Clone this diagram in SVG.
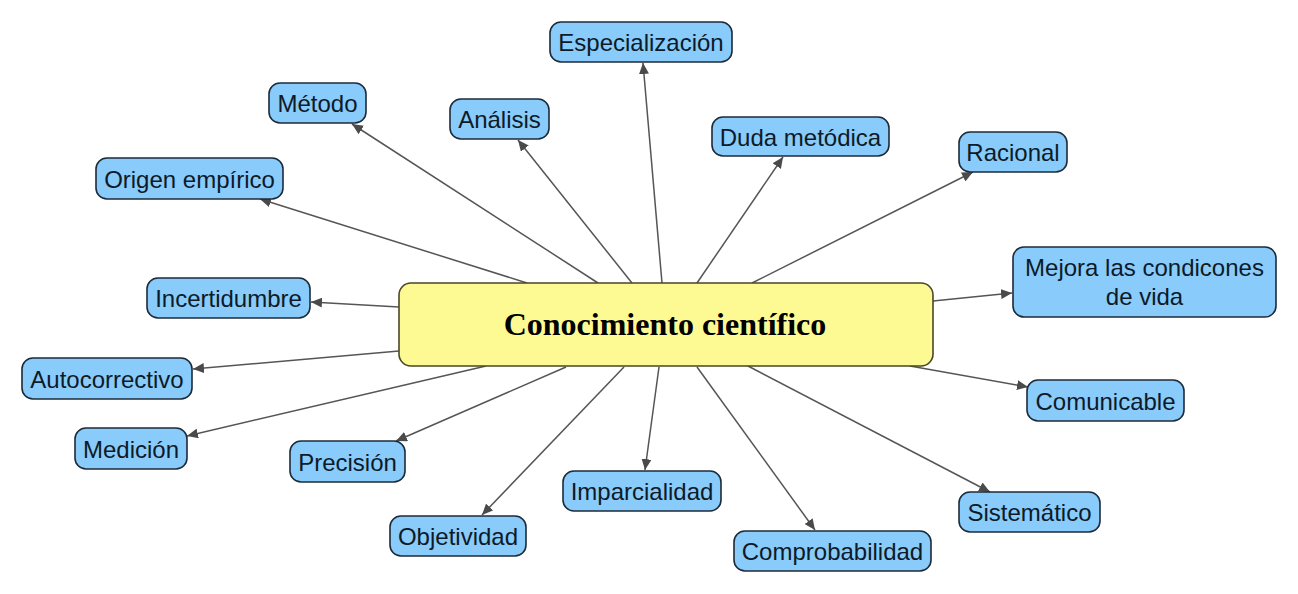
<svg xmlns="http://www.w3.org/2000/svg" width="1298" height="594" viewBox="0 0 1298 594">
<style>
.n rect{fill:#89cbfa;stroke:#1c2b3a;stroke-width:1.6}
.n text{font-family:"Liberation Sans",Arial,sans-serif;font-size:24px;fill:#0d1a28;text-anchor:middle}
#center rect{fill:#fdfa93;stroke:#4a4626;stroke-width:1.6}
#center text{font-family:"Liberation Serif","Times New Roman",serif;font-size:32px;font-weight:bold;fill:#000;text-anchor:middle}
#edges line{stroke:#555;stroke-width:1.5;marker-end:url(#arr)}
</style>
<defs>
<marker id="arr" markerUnits="userSpaceOnUse" markerWidth="12" markerHeight="10" refX="11" refY="5" orient="auto">
<path d="M0,0 L11,5 L0,10 Z" fill="#4a4a4a"/>
</marker>
</defs>
<rect width="1298" height="594" fill="#fff"/>
<g id="edges">
<line x1="598" y1="283" x2="352" y2="124"/>
<line x1="527" y1="283" x2="260" y2="199"/>
<line x1="632" y1="283" x2="518" y2="140"/>
<line x1="662" y1="283" x2="643" y2="63"/>
<line x1="697" y1="283" x2="783" y2="157"/>
<line x1="752" y1="283" x2="973" y2="172"/>
<line x1="933" y1="301" x2="1012" y2="293"/>
<line x1="910" y1="366" x2="1028" y2="387"/>
<line x1="748" y1="366" x2="990" y2="492"/>
<line x1="697" y1="367" x2="815" y2="530"/>
<line x1="659" y1="367" x2="645" y2="470"/>
<line x1="624" y1="367" x2="482" y2="515"/>
<line x1="566" y1="367" x2="396" y2="441"/>
<line x1="486" y1="366" x2="187" y2="436"/>
<line x1="399" y1="351" x2="193" y2="369"/>
<line x1="399" y1="307" x2="311" y2="302"/>
</g>
<g id="center"><rect x="399" y="283" width="534" height="83" rx="12"/><text x="665" y="335">Conocimiento científico</text></g>
<g id="metodo" class="n"><rect x="269" y="83" width="97" height="40" rx="11"/><text x="317.5" y="112">Método</text></g>
<g id="origen" class="n"><rect x="96" y="158" width="187" height="41" rx="11"/><text x="189.5" y="187.5">Origen empírico</text></g>
<g id="incertidumbre" class="n"><rect x="147" y="278" width="163" height="40" rx="11"/><text x="228.5" y="307">Incertidumbre</text></g>
<g id="especializacion" class="n"><rect x="550" y="22" width="182" height="40" rx="11"/><text x="641" y="51">Especialización</text></g>
<g id="analisis" class="n"><rect x="450" y="99" width="99" height="40" rx="11"/><text x="499.5" y="128">Análisis</text></g>
<g id="duda" class="n"><rect x="712" y="117" width="177" height="39" rx="11"/><text x="800.5" y="145.5">Duda metódica</text></g>
<g id="racional" class="n"><rect x="959" y="132" width="108" height="40" rx="11"/><text x="1013" y="161">Racional</text></g>
<g id="mejora" class="n"><rect x="1013" y="247" width="263" height="70" rx="11"/><text x="1144.5" y="276">Mejora las condicones</text><text x="1144.5" y="305">de vida</text></g>
<g id="comunicable" class="n"><rect x="1027" y="380" width="157" height="41" rx="11"/><text x="1105.5" y="409.5">Comunicable</text></g>
<g id="sistematico" class="n"><rect x="959" y="492" width="141" height="40" rx="11"/><text x="1029.5" y="521">Sistemático</text></g>
<g id="comprobabilidad" class="n"><rect x="734" y="531" width="197" height="40" rx="11"/><text x="832.5" y="560">Comprobabilidad</text></g>
<g id="imparcialidad" class="n"><rect x="563" y="471" width="158" height="40" rx="11"/><text x="642" y="500">Imparcialidad</text></g>
<g id="objetividad" class="n"><rect x="390" y="516" width="136" height="40" rx="11"/><text x="458" y="545">Objetividad</text></g>
<g id="precision" class="n"><rect x="290" y="441" width="115" height="41" rx="11"/><text x="347.5" y="470.5">Precisión</text></g>
<g id="medicion" class="n"><rect x="75" y="428" width="112" height="41" rx="11"/><text x="131" y="457.5">Medición</text></g>
<g id="autocorrectivo" class="n"><rect x="22" y="358" width="170" height="41" rx="11"/><text x="107" y="387.5">Autocorrectivo</text></g>
</svg>
